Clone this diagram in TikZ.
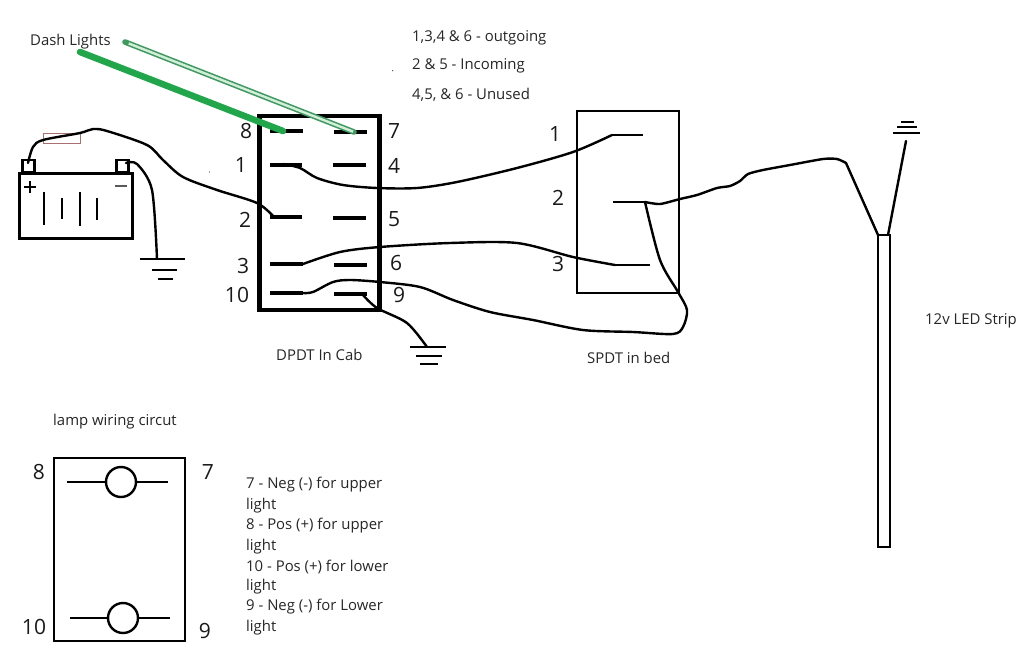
\documentclass[tikz,border=0pt]{standalone}
\usepackage{fontspec}
\setmainfont{Open Sans}
\begin{document}
\begin{tikzpicture}[x=1pt,y=-1pt,
  lbl/.style={inner sep=0pt,font=\fontsize{14.9}{16}\selectfont,text=black!85},
  num/.style={inner sep=0pt,font=\fontsize{21}{23}\selectfont,text=black!90},
  contact/.style={line width=3.4pt},
  spdtc/.style={line width=2.2pt},
  wire/.style={line width=2.4pt,line join=round,line cap=round},
  gnd/.style={line width=2.5pt},
  box/.style={draw=black,inner sep=0pt,fill=none}]
\useasboundingbox (0,0) rectangle (1024,656);
\definecolor{lgreen}{HTML}{22A64C}
\definecolor{lhollow}{HTML}{3F9A60}
\definecolor{fuse}{HTML}{A87070}

% ---- named points
\foreach \n/\x/\y/\e in {c8/270/131/303,c7/334/132/367,c1/270/165/302,c4/333/165/366,c2/270/217/302,c5/333/218/366,c3/270/264/303,c6/334/265/367,c10/270/293/303,c9/334/294/367}{
  \coordinate (\n a) at (\x,\y);
  \coordinate (\n b) at (\e,\y);
}
\coordinate (s1a) at (612,135); \coordinate (s1b) at (643,135);
\coordinate (s2a) at (613,202); \coordinate (s2b) at (645,202);
\coordinate (s3a) at (615,265); \coordinate (s3b) at (650,265);
\coordinate (bp) at (28,163); \coordinate (bn) at (126,163);
\coordinate (gA) at (157,259); \coordinate (gB) at (427,347);
\coordinate (stripL) at (878,235); \coordinate (stripR) at (888,235);
\coordinate (gC) at (906,141);
\coordinate (c1t) at (283,164); \coordinate (c2t) at (274,217); \coordinate (c9t) at (363,295);
\coordinate (gr8) at (283,131); \coordinate (gr7) at (354,132);
\coordinate (gr8s) at (80,52); \coordinate (gr7s) at (125,42);

% ---- battery
\node[box,line width=3.4pt,minimum width=113pt,minimum height=65pt] (batt) at (76,206) {};
\node[box,line width=2.4pt,minimum width=12pt,minimum height=12pt] (tp) at (28.5,166) {};
\node[box,line width=2.4pt,minimum width=12pt,minimum height=12pt] (tn) at (122.5,166) {};
\draw[line width=2.8pt] (24,187) -- (36,187) (30,181) -- (30,193);
\draw[line width=2.6pt,black!65] (115,186) -- (127,186);
\foreach \x/\a/\b in {44/192/225,62/198/219,80/192/226,97/198/220}
  \draw[line width=2.6pt] (\x,\a) -- (\x,\b);
\node[draw=fuse,line width=1pt,inner sep=0pt,minimum width=37pt,minimum height=10pt] (fusebox) at (61.5,138) {};

% ---- DPDT
\node[box,line width=4.2pt,minimum width=120pt,minimum height=194pt] (dpdt) at (319.5,213) {};
\foreach \n in {c8,c7,c1,c4,c2,c5,c3,c6,c10,c9}
  \draw[contact] (\n a) -- (\n b);

% ---- SPDT
\node[box,line width=2.4pt,minimum width=102pt,minimum height=182pt] (spdt) at (628,202) {};
\foreach \n in {s1,s2,s3}
  \draw[spdtc] (\n a) -- (\n b);

% ---- strip
\node[box,line width=2.4pt,minimum width=12pt,minimum height=312pt] (strip) at (884,391) {};

% ---- dash lights
\draw[line width=6.5pt,lgreen,line cap=round] (gr8s) -- (gr8);
\draw[line width=5.6pt,lhollow,line cap=round] (gr7s) -- (gr7);
\draw[line width=2.4pt,white!80!lgreen,shorten <=4pt,shorten >=1pt] (gr7s) -- (gr7);

% ---- wires
\draw[wire] plot[smooth,tension=.5] coordinates {(bp) (33,147) (43,140) (80,133) (93,129) (107,131) (147,145) (163,160) (183,177) (217,190) (257,203) (c2t)};
\draw[wire] plot[smooth,tension=.5] coordinates {(bn) (137,164) (152,190) (gA)};
\draw[wire] plot[smooth,tension=.5] coordinates {(c1t) (300,168) (317,178) (343,185) (377,188) (417,188) (457,182) (517,168) (573,152) (s1a)};
\draw[wire] plot[smooth,tension=.5] coordinates {(c3b) (340,252) (380,247) (450,243) (517,243) (573,257) (s3a)};
\draw[wire] plot[smooth,tension=.5] coordinates {(c10b) (313,292) (333,282) (350,280) (380,282) (420,287) (453,300) (490,312) (533,320) (583,330) (633,332) (673,334) (683,327) (687,310) (678,292) (660,260) (s2b)};
\draw[wire] plot[smooth,tension=.4] coordinates {(s2b) (660,204) (680,199) (697,195) (717,188) (730,186) (740,181) (748,174) (763,170) (790,165) (823,159) (837,159) (846,163)};
\draw[wire] (846,163) -- (stripL);
\draw[wire] (stripR) -- (gC);
\draw[wire] plot[smooth,tension=.5] coordinates {(c9t) (377,308) (407,323) (gB)};

% ---- grounds
\draw[gnd] (140,259) -- (185,259) (152,270) -- (177,270) (158,279) -- (173,279);
\draw[gnd] (410,347) -- (446,347) (416,356) -- (442,356) (420,364) -- (438,364);
\draw[gnd] (893,133) -- (920,133) (897,127) -- (917,127) (901,122) -- (914,122);

% ---- specks
\fill[black!70] (392.7,70.7) circle (.7pt) (209.5,172) circle (.7pt);

% ---- numbers
\node[num] (n8) at (246,131) {8};
\node[num] (n7) at (394,131) {7};
\node[num] (n1) at (241,165) {1};
\node[num] (n4) at (394,166) {4};
\node[num] (n2) at (245,220) {2};
\node[num] (n5) at (394,219) {5};
\node[num] (n3) at (243,266) {3};
\node[num] (n6) at (396,263) {6};
\node[num] (n10) at (237,295) {10};
\node[num] (n9) at (399,295) {9};
\node[num] (m1) at (555,134) {1};
\node[num] (m2) at (558,198) {2};
\node[num] (m3) at (558,264) {3};

% ---- labels
\node[lbl,anchor=west] (tdash) at (30,42) {Dash Lights};
\node[lbl,anchor=west] (t1) at (412,38) {1,3,4 \& 6 - outgoing};
\node[lbl,anchor=west] (t2) at (412,66) {2 \& 5 - Incoming};
\node[lbl,anchor=west] (t3) at (412,95) {4,5, \& 6 - Unused};
\node[lbl,anchor=west] (t4) at (276,355) {DPDT In Cab};
\node[lbl,anchor=west] (t5) at (587,358) {SPDT in bed};
\node[lbl,anchor=west] (t6) at (53,422) {lamp wiring circut};
\node[lbl,anchor=west] (t7) at (925,321) {12v LED Strip};
\foreach \nm/\y/\t in {a/485/7 - Neg (-) for upper,b/506/light,c/526/8 - Pos (+) for upper,d/547/light,e/567/10 - Pos (+) for lower,f/587/light,g/607/9 - Neg (-) for Lower,h/628/light}
  \node[lbl,anchor=west] (k\nm) at (246,\y) {\t};

% ---- lamp circuit
\node[box,line width=2.4pt,minimum width=131pt,minimum height=183pt] (lamp) at (119.5,549.5) {};
\node[draw=black,line width=2.4pt,circle,minimum size=30pt,inner sep=0pt] (la) at (121,482) {};
\node[draw=black,line width=2.4pt,circle,minimum size=30pt,inner sep=0pt] (lb) at (123,618) {};
\coordinate (la1) at (67,482); \coordinate (la2) at (168,482);
\coordinate (lb1) at (70,618); \coordinate (lb2) at (170,618);
\draw[line width=2.2pt] (la1) -- (la) (la) -- (la2) (lb1) -- (lb) (lb) -- (lb2);
\node[num] (q8) at (39,472) {8};
\node[num] (q7) at (208,472) {7};
\node[num] (q10) at (34,627) {10};
\node[num] (q9) at (205,631) {9};
\end{tikzpicture}
\end{document}
